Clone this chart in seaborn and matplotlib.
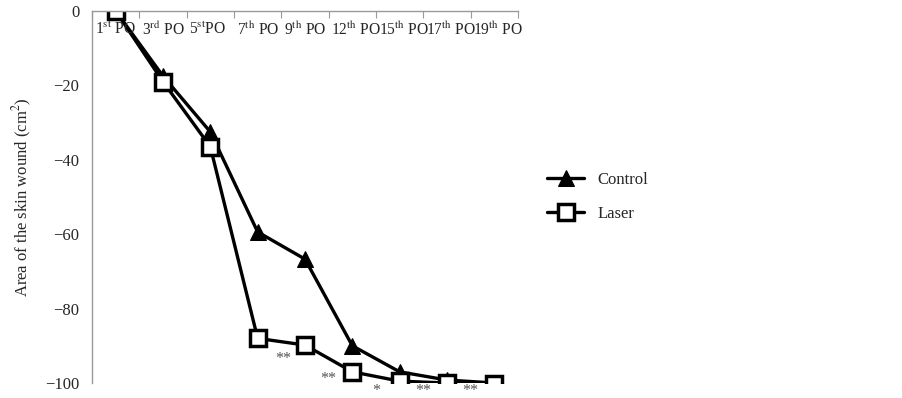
import numpy as np
import matplotlib
matplotlib.use("Agg")
import matplotlib.pyplot as plt
import seaborn as sns
import pandas as pd

# post-operative days
days = ["1$^{\\mathrm{st}}$ PO", "3$^{\\mathrm{rd}}$ PO", "5$^{\\mathrm{st}}$PO", "7$^{\\mathrm{th}}$ PO",
        "9$^{\\mathrm{th}}$ PO", "12$^{\\mathrm{th}}$ PO", "15$^{\\mathrm{th}}$ PO", "17$^{\\mathrm{th}}$ PO",
        "19$^{\\mathrm{th}}$ PO"]
control = [0, -17.5, -32.5, -59.4, -66.7, -90, -97, -99.2, -100]
laser = [0, -19, -36.5, -88, -89.8, -97, -99.5, -100, -100.3]
# significance marks (between days)
sig_pos = [3.55, 4.5, 5.5, 6.5, 7.5]
sig_y = [-93.5, -99, -102.1, -102.1, -102.1]
sig_txt = ["**", "**", "*", "**", "**"]

sns.set_style("white")
plt.rcParams["font.family"] = ["Liberation Serif", "DejaVu Serif"]
plt.rcParams["mathtext.fontset"] = "stix"

df = pd.DataFrame({"x": np.arange(len(days)), "Control": control, "Laser": laser})

fig = plt.figure(figsize=(9.02, 3.98), dpi=100)
ax = fig.add_axes([92 / 902, 1 - 383 / 398, (518 - 92) / 902, (383 - 11) / 398])

sns.lineplot(data=df, x="x", y="Control", ax=ax, color="black", lw=2.4, marker="^",
             markersize=11.5, markeredgecolor="black", markerfacecolor="black", label="Control")
sns.lineplot(data=df, x="x", y="Laser", ax=ax, color="black", lw=2.4, marker="s",
             markersize=11.5, markeredgecolor="black", markerfacecolor="white", markeredgewidth=2.5,
             label="Laser")

for xp, yp, t in zip(sig_pos, sig_y, sig_txt):
    ax.text(xp, yp, t, ha="center", va="center", fontsize=11.5, color="#555555", clip_on=False)

ax.set_xlim(-0.5, len(days) - 0.5)
ax.set_ylim(-100, 0)
ax.set_yticks([0, -20, -40, -60, -80, -100])
ax.set_yticklabels(["0", "\u221220", "\u221240", "\u221260", "\u221280", "\u2212100"])
ax.tick_params(axis="y", direction="out", length=6, color="#999999", labelsize=12, pad=3)

# x axis on top with category labels hanging just under it (left aligned at the tick marks)
ax.xaxis.tick_top()
ax.set_xticks(np.arange(-0.5, len(days)))
ax.set_xticklabels([])
ax.tick_params(axis="x", direction="in", length=5, color="#999999")
for i, d in enumerate(days):
    ax.annotate(d, xy=(i - 0.5, 0), xytext=(2, -8), textcoords="offset points",
                ha="left", va="top", fontsize=11.2, annotation_clip=False)

ax.set_xlabel("")
ax.set_ylabel("Area of the skin wound (cm$^2$)", fontsize=12, labelpad=8)

for s in ["right", "bottom"]:
    ax.spines[s].set_visible(False)
for s in ["top", "left"]:
    ax.spines[s].set_color("#999999")
    ax.spines[s].set_linewidth(1)

ax.legend(loc="center left", bbox_to_anchor=(600 / 902 - 0.075, 1 - 197 / 398),
          bbox_transform=fig.transFigure, frameon=False, fontsize=12,
          handlelength=2.2, labelspacing=1.1)

fig.savefig("out.png", dpi=100)
